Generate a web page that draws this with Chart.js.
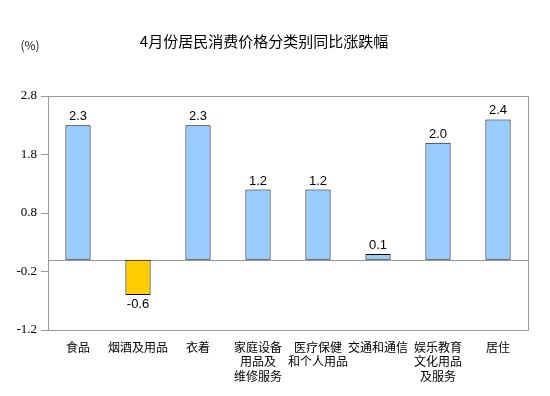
<!DOCTYPE html>
<html>
<head>
<meta charset="utf-8">
<script src="https://cdn.jsdelivr.net/npm/chart.js@4/dist/chart.umd.min.js"></script>
<style>
html,body{margin:0;padding:0;background:#fff;}
#wrap{width:550px;height:396px;}
</style>
</head>
<body>
<div id="wrap"><canvas id="c" width="550" height="396"></canvas></div>
<script>
const categories = [
  "食品",
  "烟酒及用品",
  "衣着",
  ["家庭设备", "用品及", "维修服务"],
  ["医疗保健", "和个人用品"],
  "交通和通信",
  ["娱乐教育", "文化用品", "及服务"],
  "居住"
];
const values = [2.3, -0.6, 2.3, 1.2, 1.2, 0.1, 2.0, 2.4];
const yTicks = [-1.2, -0.2, 0.8, 1.8, 2.8];
const titleText = "4月份居民消费价格分类别同比涨跌幅";
const unitText = "(%)";

const axisGray = "#999999";

const framePlugin = {
  id: "frame",
  beforeDatasetsDraw(chart) {
    const {ctx, chartArea: a, scales: {y}} = chart;
    ctx.save();
    ctx.strokeStyle = axisGray;
    ctx.lineWidth = 1;
    const z = Math.round(y.getPixelForValue(0)) + 0.5;
    ctx.beginPath();
    ctx.moveTo(a.left, z);
    ctx.lineTo(a.right, z);
    ctx.stroke();
    ctx.beginPath();
    ctx.moveTo(a.left, Math.round(a.top) + 0.5);
    ctx.lineTo(Math.round(a.right) + 0.5, Math.round(a.top) + 0.5);
    ctx.lineTo(Math.round(a.right) + 0.5, a.bottom);
    ctx.stroke();
    ctx.restore();
  },
  afterDatasetsDraw(chart) {
    const {ctx} = chart;
    const meta = chart.getDatasetMeta(0);
    ctx.save();
    ctx.fillStyle = "#000";
    ctx.font = "13px 'Liberation Sans', Arial, sans-serif";
    ctx.textAlign = "center";
    meta.data.forEach((bar, i) => {
      const v = values[i];
      const t = v.toFixed(1);
      if (v >= 0) {
        ctx.textBaseline = "bottom";
        ctx.fillText(t, bar.x, bar.y - 2);
      } else {
        ctx.textBaseline = "top";
        ctx.fillText(t, bar.x, bar.y + 3);
      }
    });
    ctx.font = "12px 'Noto Sans CJK SC', sans-serif";
    ctx.textAlign = "center";
    ctx.textBaseline = "middle";
    ctx.fillStyle = "#222";
    ctx.fillText(unitText, 30, 45);
    ctx.restore();
  }
};

new Chart(document.getElementById("c"), {
  type: "bar",
  data: {
    labels: categories,
    datasets: [{
      data: values,
      backgroundColor: values.map(v => v < 0 ? "#FFCC00" : "#99CCFF"),
      borderColor: "#000000",
      borderWidth: 1,
      borderSkipped: false,
      barPercentage: 0.42,
      categoryPercentage: 1.0
    }]
  },
  options: {
    responsive: false,
    animation: false,
    devicePixelRatio: 1,
    layout: {padding: {left: 0, right: 22, top: 0, bottom: 0}},
    plugins: {
      legend: {display: false},
      tooltip: {enabled: false},
      title: {
        display: true,
        text: titleText,
        color: "#000",
        font: {family: "'Noto Sans CJK SC', sans-serif", size: 15, weight: "normal"},
        padding: {top: 32, bottom: 46}
      }
    },
    scales: {
      x: {
        grid: {display: false, drawTicks: false},
        border: {display: true, color: axisGray, width: 1},
        ticks: {
          color: "#000",
          font: {family: "'Noto Sans CJK SC', sans-serif", size: 12, lineHeight: 1.2},
          padding: 10,
          maxRotation: 0,
          autoSkip: false
        },
        afterFit(scale) { scale.height = 66; }
      },
      y: {
        min: -1.2,
        max: 2.8,
        afterBuildTicks(scale) { scale.ticks = yTicks.map(v => ({value: v})); },
        grid: {drawOnChartArea: false, drawTicks: true, tickLength: 7, color: axisGray},
        border: {display: true, color: axisGray, width: 1},
        ticks: {
          color: "#000",
          font: {family: "'Liberation Serif', 'Times New Roman', serif", size: 13},
          padding: 4,
          callback: v => Number(v).toFixed(1)
        },
        afterFit(scale) { scale.width = 48; }
      }
    }
  },
  plugins: [framePlugin]
});
</script>
</body>
</html>
